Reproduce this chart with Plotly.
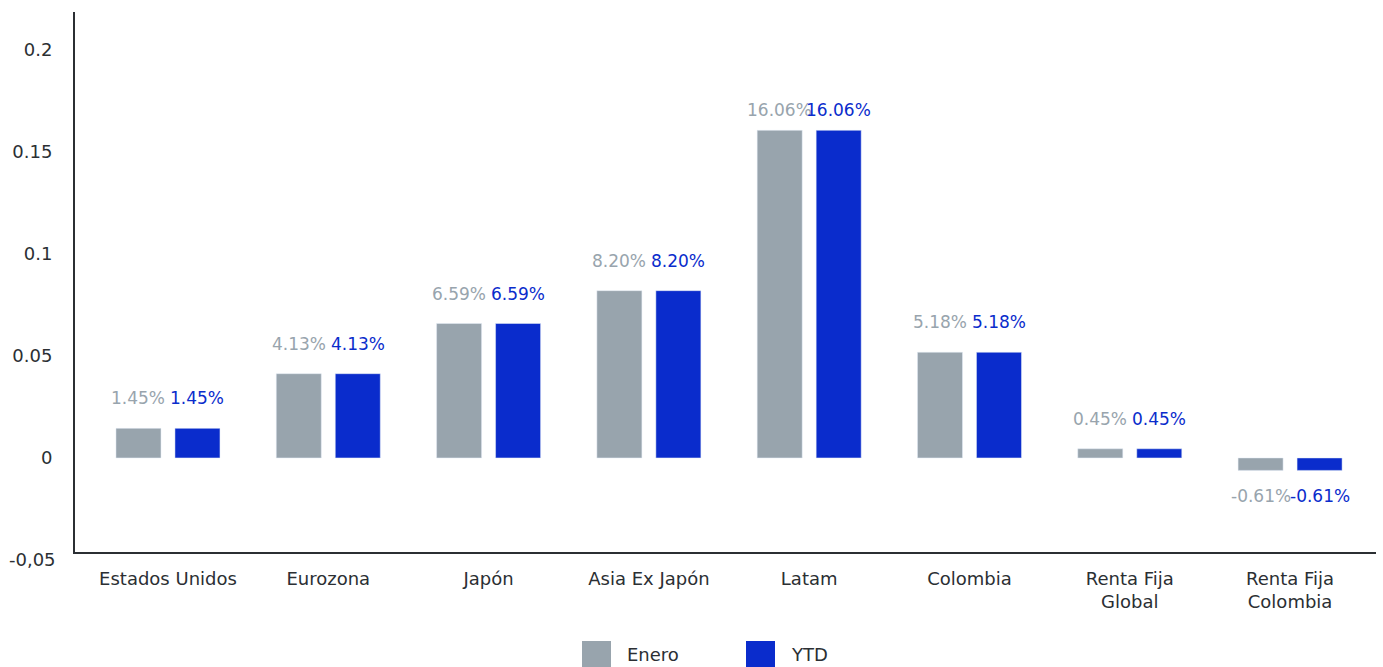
import plotly.graph_objects as go

categories = ["Estados Unidos", "Eurozona", "Japón", "Asia Ex Japón", "Latam",
              "Colombia", "Renta Fija<br>Global", "Renta Fija<br>Colombia"]
enero = [0.0145, 0.0413, 0.0659, 0.0820, 0.1606, 0.0518, 0.0045, -0.0061]
ytd = [0.0145, 0.0413, 0.0659, 0.0820, 0.1606, 0.0518, 0.0045, -0.0061]
series_names = ["Enero", "YTD"]
ytick_vals = [0, 0.05, 0.1, 0.15, 0.2]
ytick_text = ["0", "0.05", "0.1", "0.15", "0.2"]
extra_tick_val = -0.05
extra_tick_text = "-0,05"

GREY = "#98a4ad"
BLUE = "#0a2ccc"
AXIS = "#2b2f33"
FONT = "DejaVu Sans"
YMIN, YMAX = -0.0461, 0.2186

fig = go.Figure()
fig.add_trace(go.Bar(x=categories, y=enero, name=series_names[0], marker_color=GREY,
                     showlegend=False))
fig.add_trace(go.Bar(x=categories, y=ytd, name=series_names[1], marker_color=BLUE,
                     showlegend=False))

annotations = []
for vals, shift, col in [(enero, -29.5, GREY), (ytd, 29.5, BLUE)]:
    for c, v in zip(categories, vals):
        if v >= 0:
            ys = 20 if v > 0.15 else 30
        else:
            ys = -26
        annotations.append(dict(x=c, y=v, xref="x", yref="y", text=f"{v*100:.2f}%",
                                showarrow=False, xshift=shift, yshift=ys,
                                font=dict(family=FONT, size=17, color=col)))

annotations.append(dict(x=0, y=(extra_tick_val - YMIN) / (YMAX - YMIN), xref="paper",
                        yref="paper", text=extra_tick_text,
                        showarrow=False, xanchor="right", yanchor="middle", xshift=-17,
                        font=dict(family=FONT, size=18, color=AXIS)))

# manual legend
legend_items = [(series_names[0], GREY, 582), (series_names[1], BLUE, 746)]
shapes = []
for name, col, px in legend_items:
    shapes.append(dict(type="rect", xref="paper", yref="paper",
                       x0=(px - 75) / 1301, x1=(px + 29 - 75) / 1301,
                       y0=-(641 - 552) / 540, y1=-(667 - 552) / 540,
                       fillcolor=col, line=dict(width=0)))
    annotations.append(dict(x=(px + 43 - 75) / 1301, y=-(654 - 552) / 540, xref="paper",
                            yref="paper", text=name, showarrow=False, xanchor="left",
                            yanchor="middle",
                            font=dict(family=FONT, size=18, color=AXIS)))

fig.update_layout(
    width=1383, height=667,
    margin=dict(l=75, r=7, t=12, b=115),
    plot_bgcolor="white", paper_bgcolor="white",
    barmode="group", bargap=0.264, bargroupgap=0.237,
    font=dict(family=FONT, size=18, color=AXIS),
    annotations=annotations, shapes=shapes,
    showlegend=False,
)
fig.update_xaxes(range=[-0.58, 7.536], showline=True, linecolor=AXIS, linewidth=2,
                 ticks="", showgrid=False, zeroline=False, ticklabelstandoff=9,
                 tickfont=dict(family=FONT, size=18, color=AXIS))
fig.update_yaxes(range=[YMIN, YMAX], showline=True, linecolor=AXIS, linewidth=2,
                 ticks="", showgrid=False, zeroline=False, tickvals=ytick_vals,
                 ticktext=ytick_text, ticklabelstandoff=17,
                 tickfont=dict(family=FONT, size=18, color=AXIS))

fig.write_html("out.html")
